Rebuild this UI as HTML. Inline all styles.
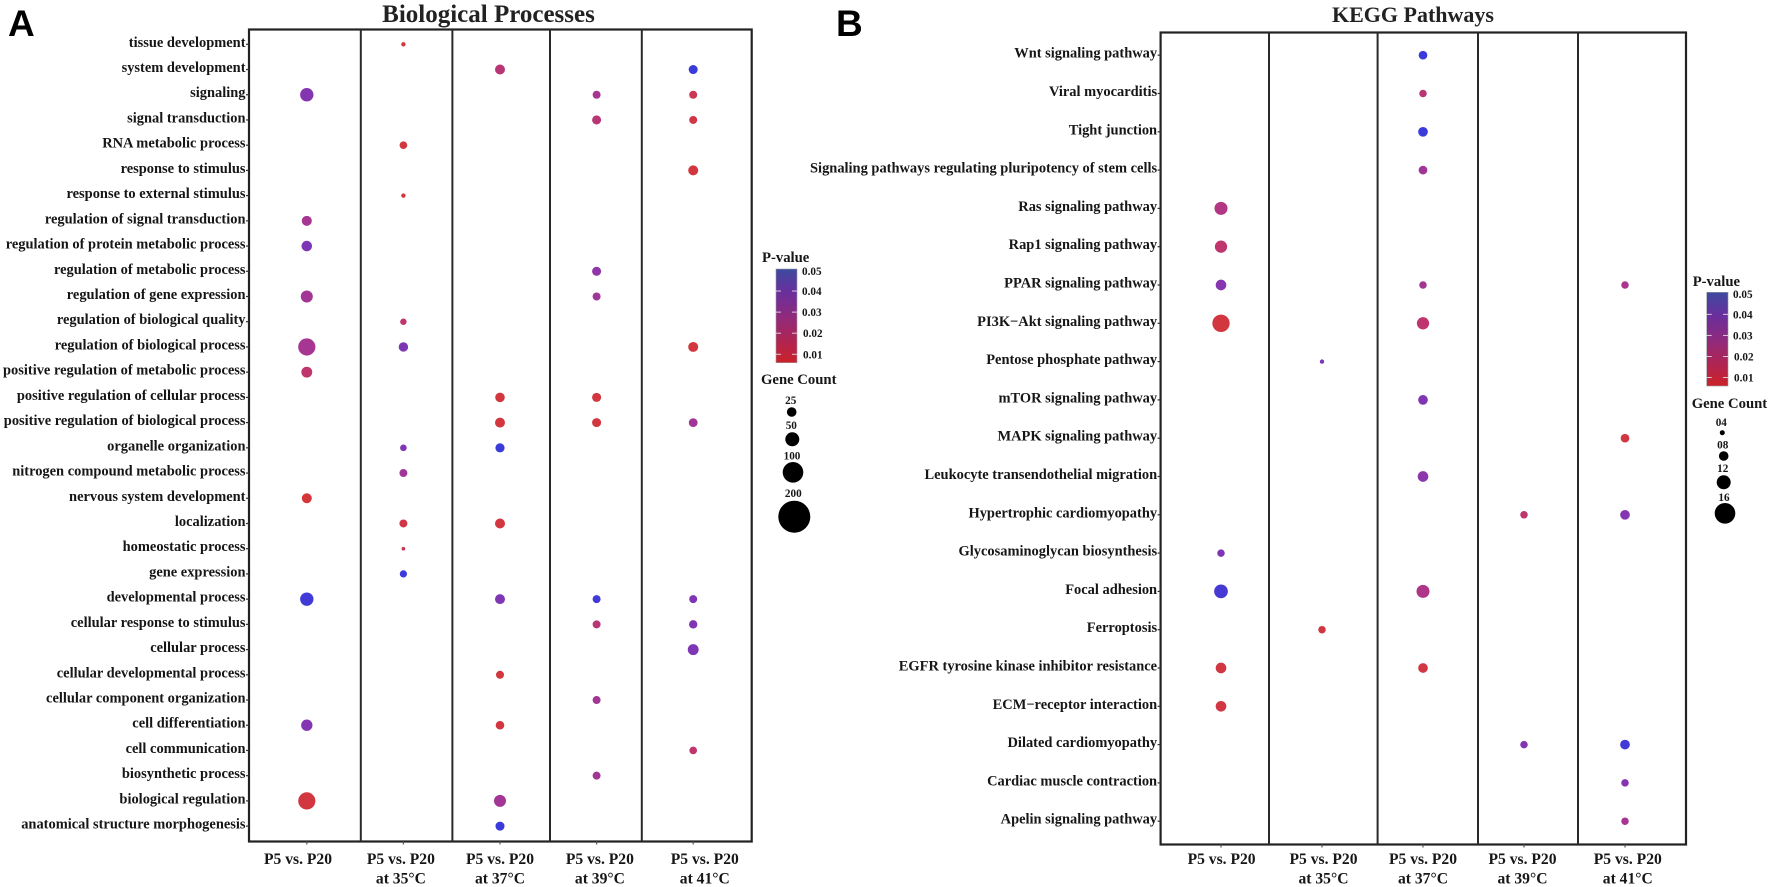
<!DOCTYPE html>
<html lang="en">
<head>
<meta charset="utf-8">
<title>Biological Processes and KEGG Pathways dot plots</title>
<style>
html,body{margin:0;padding:0;background:#fff;width:1772px;height:887px;overflow:hidden}
svg{display:block;filter:blur(0.35px)}
text{font-family:"Liberation Serif",serif;font-weight:700;fill:#161616}
.panel-letter{font-family:"Liberation Sans",sans-serif;font-size:37px;fill:#000}
.title{font-size:25px;text-anchor:middle;fill:#222}
.title-kegg{font-size:22px}
.term{font-size:14.45px;text-anchor:end}
.cond{font-size:15.6px;text-anchor:middle}
.leg-title{font-size:14.7px}
.leg-label{font-size:11.2px}
</style>
</head>
<body>
<svg id="chart" xmlns="http://www.w3.org/2000/svg" width="1772" height="887" viewBox="0 0 1772 887">
  <defs>
    <linearGradient id="pvalue-gradient" x1="0" y1="0" x2="0" y2="1">
      <stop offset="0" stop-color="#3d4a9f"/>
      <stop offset="0.25" stop-color="#6a2f9c"/>
      <stop offset="0.5" stop-color="#8e2a7e"/>
      <stop offset="0.75" stop-color="#ae2555"/>
      <stop offset="1" stop-color="#cb2228"/>
    </linearGradient>
  </defs>
  <rect width="1772" height="887" fill="#fff"/>
  <text class="panel-letter" x="8" y="36">A</text>
  <text class="panel-letter" x="836" y="36">B</text>
  <text class="title" x="488.5" y="22">Biological Processes</text>
  <text class="title title-kegg" x="1413" y="22">KEGG Pathways</text>
  <g id="panel-a"></g>
  <g id="panel-b"></g>
</svg>
<script>
// ---------- shared categories ----------
const conditions = ["P5 vs. P20", "P5 vs. P20", "P5 vs. P20", "P5 vs. P20", "P5 vs. P20"];
const conditionTemps = ["", "at 35°C", "at 37°C", "at 39°C", "at 41°C"];
const n = null;

// ---------- panel A data ----------
const termsA = [
  "tissue development","system development","signaling","signal transduction","RNA metabolic process",
  "response to stimulus","response to external stimulus","regulation of signal transduction",
  "regulation of protein metabolic process","regulation of metabolic process","regulation of gene expression",
  "regulation of biological quality","regulation of biological process","positive regulation of metabolic process",
  "positive regulation of cellular process","positive regulation of biological process","organelle organization",
  "nitrogen compound metabolic process","nervous system development","localization","homeostatic process",
  "gene expression","developmental process","cellular response to stimulus","cellular process",
  "cellular developmental process","cellular component organization","cell differentiation","cell communication",
  "biosynthetic process","biological regulation","anatomical structure morphogenesis"
];
const pValuesA = [
  [n,.008,n,n,n],[n,n,.02,n,.048],[.035,n,n,.026,.012],[n,n,n,.02,.01],[n,.008,n,n,n],
  [n,n,n,n,.008],[n,.008,n,n,n],[.026,n,n,n,n],[.036,n,n,n,n],[n,n,n,.032,n],
  [.027,n,n,.028,n],[n,.018,n,n,n],[.026,.036,n,n,.008],[.018,n,n,n,n],[n,n,.008,.008,n],
  [n,n,.008,.008,.028],[n,.036,.048,n,n],[n,.028,n,n,n],[.007,n,n,n,n],[n,.01,.008,n,n],
  [n,.012,n,n,n],[n,.048,n,n,n],[.047,n,.036,.047,.036],[n,n,n,.02,.036],[n,n,n,n,.036],
  [n,n,.008,n,n],[n,n,n,.027,n],[.035,n,.008,n,n],[n,n,n,n,.018],[n,n,n,.027,n],
  [.008,n,.027,n,n],[n,n,.048,n,n]
];
const countsA = [
  [n,13,n,n,n],[n,n,67,n,55],[120,n,n,43,43],[n,n,n,55,43],[n,40,n,n,n],
  [n,n,n,n,67],[n,13,n,n,n],[67,n,n,n,n],[75,n,n,n,n],[n,n,n,55,n],
  [97,n,n,43,n],[n,28,n,n,n],[200,60,n,n,67],[80,n,n,n,n],[n,n,62,55,n],
  [n,n,67,55,52],[n,30,57,n,n],[n,43,n,n,n],[67,n,n,n,n],[n,43,67,n,n],
  [n,9,n,n,n],[n,35,n,n,n],[120,n,67,43,43],[n,n,n,43,47],[n,n,n,n,80],
  [n,n,43,n,n],[n,n,n,43,n],[87,n,50,n,n],[n,n,n,n,39],[n,n,n,43,n],
  [199,n,97,n,n],[n,n,55,n,n]
];

// ---------- panel B data ----------
const termsB = [
  "Wnt signaling pathway","Viral myocarditis","Tight junction",
  "Signaling pathways regulating pluripotency of stem cells","Ras signaling pathway","Rap1 signaling pathway",
  "PPAR signaling pathway","PI3K−Akt signaling pathway","Pentose phosphate pathway","mTOR signaling pathway",
  "MAPK signaling pathway","Leukocyte transendothelial migration","Hypertrophic cardiomyopathy",
  "Glycosaminoglycan biosynthesis","Focal adhesion","Ferroptosis","EGFR tyrosine kinase inhibitor resistance",
  "ECM−receptor interaction","Dilated cardiomyopathy","Cardiac muscle contraction","Apelin signaling pathway"
];
const pValuesB = [
  [n,n,.048,n,n],[n,n,.02,n,n],[n,n,.048,n,n],[n,n,.028,n,n],[.023,n,n,n,n],[.018,n,n,n,n],
  [.034,n,.027,n,.025],[.008,n,.018,n,n],[n,.037,n,n,n],[n,n,.036,n,n],[n,n,n,n,.009],
  [n,n,.033,n,n],[n,n,n,.018,.035],[.036,n,n,n,n],[.046,n,.024,n,n],[n,.009,n,n,n],
  [.009,n,.009,n,n],[.009,n,n,n,n],[n,n,n,.035,.047],[n,n,n,n,.035],[n,n,n,n,.026]
];
const countsB = [
  [n,n,4,n,n],[n,n,3,n,n],[n,n,5,n,n],[n,n,4,n,n],[9,n,n,n,n],[8,n,n,n,n],
  [6,n,3,n,3],[16,n,8,n,n],[n,1,n,n,n],[n,n,5,n,n],[n,n,n,n,4],
  [n,n,6,n,n],[n,n,n,3,5],[3,n,n,n,n],[10,n,9,n,n],[n,3,n,n,n],
  [6,n,5,n,n],[6,n,n,n,n],[n,n,n,3,5],[n,n,n,n,3],[n,n,n,n,3]
];

// ---------- legend values ----------
const pTickLabelsA = ["0.05","0.04","0.03","0.02","0.01"];
const sizeLabelsA = ["25","50","100","200"];
const sizeLabelsB = ["04","08","12","16"];

// ---------- colour scale for p-value ----------
const pStops = [.005,.015,.025,.035,.05];
const pColors = [[214,47,42],[197,48,90],[168,48,138],[128,48,176],[42,53,224]];

function colorScale(p){
  if(p<=pStops[0]) return "rgb("+pColors[0].join(",")+")";
  for(let i=1;i<pStops.length;i++){
    if(p<=pStops[i]){
      const t=(p-pStops[i-1])/(pStops[i]-pStops[i-1]);
      const c=pColors[i].map(function(v,k){return Math.round(pColors[i-1][k]+(v-pColors[i-1][k])*t);});
      return "rgb("+c.join(",")+")";
    }
  }
  return "rgb("+pColors[pColors.length-1].join(",")+")";
}

const NS="http://www.w3.org/2000/svg";
function mk(parent,tag,attrs,txt){
  const el=document.createElementNS(NS,tag);
  for(const k in attrs) el.setAttribute(k,attrs[k]);
  if(txt!==undefined) el.textContent=txt;
  parent.appendChild(el);
  return el;
}

function drawPanel(g,o){
  const xScale=function(i){return o.x0+o.xStep*i;};
  const yScale=function(i){return o.y0+o.yStep*i;};
  const rScale=function(c){return o.rK*Math.sqrt(c);};

  // frame
  const frame=mk(g,"rect",{x:o.left,y:o.top,width:o.right-o.left,height:o.bottom-o.top,fill:"none",stroke:"#222","stroke-width":2.2});
  
  

  o.dividers.forEach(function(dx){
    const line=mk(g,"line",{x1:dx,x2:dx,y1:o.top,y2:o.bottom,stroke:"#2a2a2a","stroke-width":2});
    
    
  });

  // y axis
  o.terms.forEach(function(term,r){
    const y=yScale(r);
    const tick=mk(g,"line",{x1:o.left-3,x2:o.left,y1:y,y2:y,stroke:"#333","stroke-width":1.2});
    
    
    const label=mk(g,"text",{class:"term",x:o.left-3.5,y:y+2.5},term);
    
    
  });

  // x axis
  conditions.forEach(function(c,i){
    const x=xScale(i);
    const tick=mk(g,"line",{x1:x,x2:x,y1:o.bottom,y2:o.bottom+3,stroke:"#555","stroke-width":1.2});
    
    
    const lx=x+o.labelShift[i];
    const label=mk(g,"text",{class:"cond",x:lx,y:o.labelY},c);
    
    
    if(conditionTemps[i]){
      const label2=mk(g,"text",{class:"cond",x:lx,y:o.labelY+19.5},conditionTemps[i]);
      
      
    }
  });

  // dots
  o.pValues.forEach(function(row,r){
    row.forEach(function(p,c){
      if(p===null) return;
      const count=o.counts[r][c];
      const dot=mk(g,"circle",{cx:xScale(c),cy:yScale(r),r:rScale(count),fill:colorScale(p),"fill-opacity":0.97});
      
      
    });
  });

  // legend: colour bar
  const l=o.legend;
  const t1=mk(g,"text",{class:"leg-title",x:l.x,y:l.pTitleY},"P-value");
  
  
  const bar=mk(g,"rect",{x:l.barX,y:l.barTop,width:l.barW,height:l.barBottom-l.barTop,fill:"url(#pvalue-gradient)",stroke:"#9a9aa5","stroke-width":0.6});
  
  
  pTickLabelsA.forEach(function(s,i){
    const y=l.barTop+(l.barBottom-l.barTop)*(0.01+i*0.225);
    if(i>0){
      [[l.barX,l.barX+5],[l.barX+l.barW-5,l.barX+l.barW]].forEach(function(seg){
        const m=mk(g,"line",{x1:seg[0],x2:seg[1],y1:y,y2:y,stroke:"#e4dbe6","stroke-width":0.9});
        
        
      });
    }
    const tx=mk(g,"text",{class:"leg-label",x:l.barX+l.barW+5+(i>2?1:0),y:y+4+(i===0?1:0)},s);
    
    
  });

  // legend: size key
  const t2=mk(g,"text",{class:"leg-title",x:l.x-1,y:l.sizeTitleY},"Gene Count");
  
  
  o.sizeLabels.forEach(function(s,i){
    const k=l.key[i];
    const lab=mk(g,"text",{class:"leg-label","text-anchor":"middle",x:k.cx-1,y:k.ly+4},s);
    
    
    const c=mk(g,"circle",{cx:k.cx,cy:k.cy,r:k.r,fill:"#000"});
    
    
  });
}

drawPanel(document.getElementById("panel-a"),{
  terms:termsA,pValues:pValuesA,counts:countsA,sizeLabels:sizeLabelsA,
  left:249,right:751.7,top:29.5,bottom:841.5,dividers:[360.8,452.4,550,641.8],
  x0:306.8,xStep:96.6,y0:44.3,yStep:25.22,rK:0.61,
  labelShift:[-8.8,-2.5,0,3.3,11.6],labelY:864,
  legend:{x:762,pTitleY:262,barX:776,barW:21,barTop:269,barBottom:362.7,sizeTitleY:384,
    key:[{cx:791.7,cy:412,r:4.8,ly:400},{cx:792.3,cy:439.3,r:7,ly:425},{cx:793,cy:472.3,r:10.3,ly:455.5},{cx:794.3,cy:516.7,r:16,ly:493}]}
});
drawPanel(document.getElementById("panel-b"),{
  terms:termsB,pValues:pValuesB,counts:countsB,sizeLabels:sizeLabelsB,
  left:1160.6,right:1686,top:32.5,bottom:844.5,dividers:[1269,1377.6,1478,1578],
  x0:1221,xStep:101,y0:55.2,yStep:38.3,rK:2.17,
  labelShift:[0.6,1.5,0,-1.5,2.8],labelY:864,
  legend:{x:1692.7,pTitleY:286,barX:1706.7,barW:21.3,barTop:292.3,barBottom:386,sizeTitleY:408,
    key:[{cx:1722.3,cy:432.7,r:2.5,ly:422},{cx:1723.7,cy:456,r:4.8,ly:444.3},{cx:1723.7,cy:482.3,r:7,ly:468},{cx:1725,cy:513.3,r:10.3,ly:497}]}
});
</script>
</body>
</html>
